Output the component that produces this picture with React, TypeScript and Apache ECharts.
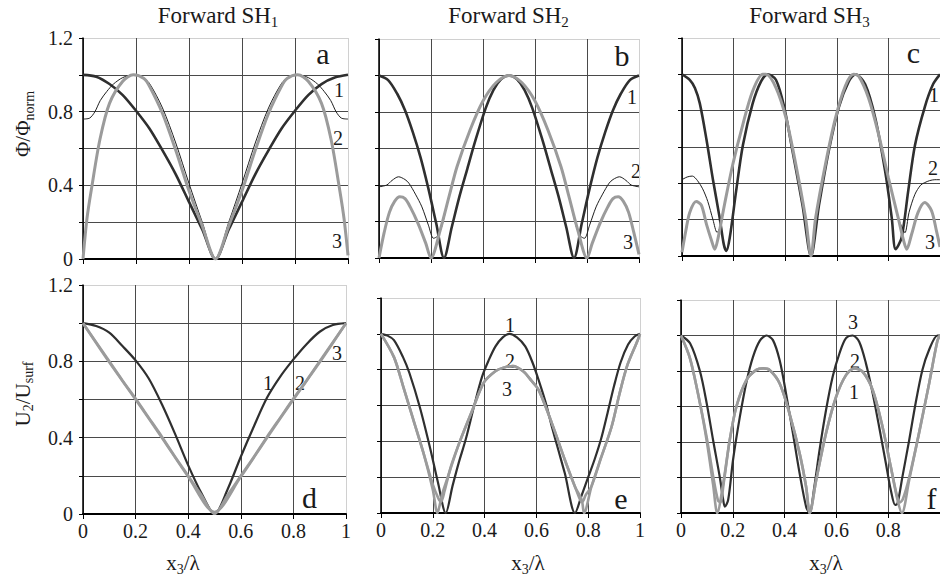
import React, { useEffect, useRef } from 'react';
import * as echarts from 'echarts';

// ---------- tick labels ----------
const X_TICK_LABELS = ['0', '0.2', '0.4', '0.6', '0.8', '1'];
const Y_TICK_LABELS = ['0', '0.4', '0.8', '1.2'];

// ---------- panel a : Forward SH1, Φ/Φnorm ----------
const A1 = [[0,1.0],[0.05,0.99],[0.1,0.95],[0.15,0.89],[0.2,0.805],[0.25,0.71],[0.3,0.59],[0.35,0.46],[0.4,0.31],[0.45,0.16],[0.5,0],[0.55,0.16],[0.6,0.31],[0.65,0.46],[0.7,0.59],[0.75,0.71],[0.8,0.805],[0.85,0.89],[0.9,0.95],[0.95,0.985],[1,1.0]];
const A2 = [[0,0.76],[0.025,0.765],[0.045,0.8],[0.065,0.86],[0.09,0.91],[0.115,0.95],[0.15,0.985],[0.19,1.0],[0.225,0.985],[0.25,0.955],[0.3,0.82],[0.35,0.63],[0.4,0.41],[0.45,0.2],[0.5,0],[0.55,0.2],[0.6,0.41],[0.65,0.63],[0.7,0.82],[0.75,0.955],[0.775,0.985],[0.81,1.0],[0.85,0.985],[0.885,0.95],[0.91,0.91],[0.935,0.86],[0.955,0.8],[0.975,0.765],[1,0.76]];
const A3 = [[0,0],[0.015,0.22],[0.033,0.39],[0.064,0.65],[0.1,0.845],[0.15,0.965],[0.19,1.0],[0.23,0.98],[0.25,0.94],[0.3,0.79],[0.35,0.59],[0.4,0.37],[0.45,0.18],[0.5,0],[0.55,0.18],[0.6,0.37],[0.65,0.59],[0.7,0.79],[0.75,0.94],[0.77,0.98],[0.81,1.0],[0.85,0.965],[0.9,0.845],[0.936,0.65],[0.967,0.39],[0.985,0.22],[1,0.02]];

// ---------- panel b : Forward SH2, Φ/Φnorm ----------
const B1 = [[0,1.0],[0.035,0.975],[0.07,0.9],[0.1,0.81],[0.13,0.69],[0.16,0.55],[0.19,0.38],[0.22,0.19],[0.25,0],[0.28,0.17],[0.31,0.34],[0.34,0.49],[0.37,0.64],[0.41,0.82],[0.44,0.92],[0.47,0.98],[0.5,1.0],[0.53,0.98],[0.56,0.92],[0.59,0.82],[0.63,0.64],[0.66,0.49],[0.69,0.34],[0.72,0.17],[0.75,0],[0.78,0.19],[0.81,0.38],[0.84,0.55],[0.87,0.69],[0.9,0.81],[0.93,0.9],[0.965,0.975],[1,1.0]];
const B2 = [[0,0.39],[0.03,0.4],[0.05,0.425],[0.075,0.445],[0.1,0.43],[0.115,0.41],[0.14,0.35],[0.165,0.28],[0.19,0.18],[0.21,0.108],[0.225,0.12],[0.24,0.165],[0.27,0.34],[0.3,0.5],[0.35,0.7],[0.4,0.86],[0.45,0.96],[0.5,1.0],[0.55,0.96],[0.6,0.86],[0.65,0.7],[0.7,0.5],[0.73,0.34],[0.76,0.165],[0.775,0.12],[0.79,0.108],[0.81,0.18],[0.835,0.28],[0.86,0.35],[0.885,0.41],[0.9,0.43],[0.925,0.445],[0.95,0.425],[0.97,0.4],[1,0.39]];
const B3 = [[0,0],[0.02,0.14],[0.04,0.25],[0.06,0.31],[0.08,0.335],[0.1,0.325],[0.12,0.28],[0.15,0.19],[0.18,0.08],[0.2,0],[0.235,0.15],[0.27,0.34],[0.3,0.5],[0.35,0.7],[0.4,0.86],[0.45,0.96],[0.5,1.0],[0.55,0.96],[0.6,0.86],[0.65,0.7],[0.7,0.5],[0.73,0.34],[0.765,0.15],[0.8,0],[0.82,0.08],[0.85,0.19],[0.88,0.28],[0.9,0.325],[0.92,0.335],[0.94,0.31],[0.96,0.25],[0.98,0.14],[1,0.02]];

// ---------- panel c : Forward SH3, Φ/Φnorm ----------
const C1 = [[0,1.0],[0.03,0.97],[0.05,0.925],[0.069,0.84],[0.095,0.64],[0.12,0.42],[0.146,0.21],[0.162,0.064],[0.172,0.028],[0.185,0.1],[0.21,0.36],[0.236,0.61],[0.274,0.84],[0.306,0.96],[0.332,1.0],[0.364,0.97],[0.396,0.82],[0.428,0.58],[0.467,0.28],[0.5,0],[0.531,0.28],[0.569,0.58],[0.608,0.82],[0.646,0.96],[0.672,1.0],[0.71,0.945],[0.749,0.76],[0.787,0.47],[0.813,0.21],[0.828,0.037],[0.851,0.1],[0.877,0.36],[0.903,0.61],[0.941,0.82],[0.973,0.945],[1,1.0]];
const C2 = [[0,0.42],[0.02,0.435],[0.04,0.44],[0.06,0.415],[0.08,0.37],[0.1,0.3],[0.12,0.2],[0.136,0.13],[0.15,0.17],[0.165,0.285],[0.197,0.505],[0.236,0.725],[0.274,0.908],[0.313,1.0],[0.326,1.0],[0.364,0.927],[0.403,0.76],[0.441,0.505],[0.479,0.21],[0.5,0],[0.518,0.21],[0.556,0.505],[0.595,0.76],[0.633,0.936],[0.665,1.0],[0.685,0.99],[0.723,0.87],[0.762,0.67],[0.8,0.43],[0.838,0.21],[0.852,0.16],[0.864,0.128],[0.88,0.24],[0.903,0.34],[0.925,0.39],[0.941,0.404],[0.96,0.415],[0.98,0.42],[1,0.42]];
const C3 = [[0,0.02],[0.015,0.14],[0.03,0.24],[0.055,0.3],[0.075,0.28],[0.095,0.174],[0.115,0.083],[0.127,0.037],[0.14,0.1],[0.165,0.285],[0.197,0.505],[0.236,0.725],[0.274,0.908],[0.313,1.0],[0.326,1.0],[0.364,0.927],[0.403,0.76],[0.441,0.505],[0.479,0.21],[0.5,0],[0.518,0.21],[0.556,0.505],[0.595,0.76],[0.633,0.936],[0.665,1.0],[0.685,0.99],[0.723,0.87],[0.762,0.67],[0.8,0.43],[0.838,0.21],[0.858,0.09],[0.871,0.037],[0.89,0.12],[0.915,0.24],[0.941,0.294],[0.967,0.25],[0.986,0.14],[1,0.05]];

// ---------- panel d : Forward SH1, U2/Usurf ----------
const D1 = [[0,1.0],[0.05,0.985],[0.1,0.95],[0.15,0.88],[0.2,0.805],[0.25,0.71],[0.3,0.575],[0.35,0.42],[0.4,0.255],[0.45,0.11],[0.5,0],[0.55,0.13],[0.6,0.3],[0.65,0.46],[0.7,0.61],[0.75,0.72],[0.8,0.81],[0.85,0.89],[0.9,0.955],[0.95,0.99],[1,1.0]];
const D2 = [[0,1.0],[0.05,0.9],[0.1,0.8],[0.15,0.7],[0.2,0.605],[0.25,0.505],[0.3,0.405],[0.35,0.3],[0.4,0.2],[0.45,0.1],[0.5,0],[0.55,0.1],[0.6,0.2],[0.65,0.3],[0.7,0.405],[0.75,0.505],[0.8,0.605],[0.85,0.7],[0.9,0.8],[0.95,0.9],[1,1.0]];
const D3 = [[0,1.0],[0.1,0.795],[0.2,0.6],[0.3,0.4],[0.4,0.195],[0.5,0.01],[0.6,0.195],[0.7,0.4],[0.8,0.6],[0.9,0.795],[1,1.0]];

// ---------- panel e : Forward SH2, U2/Usurf ----------
const E1 = [[0,1.0],[0.025,0.99],[0.05,0.965],[0.085,0.87],[0.11,0.78],[0.15,0.59],[0.19,0.36],[0.22,0.17],[0.25,0],[0.276,0.15],[0.3,0.28],[0.327,0.41],[0.36,0.6],[0.39,0.76],[0.415,0.85],[0.442,0.93],[0.47,0.98],[0.496,1.0],[0.525,0.98],[0.557,0.93],[0.585,0.84],[0.609,0.74],[0.635,0.62],[0.66,0.48],[0.685,0.35],[0.71,0.22],[0.749,0],[0.775,0.1],[0.8,0.2],[0.825,0.3],[0.851,0.42],[0.875,0.56],[0.9,0.71],[0.925,0.84],[0.954,0.94],[0.979,0.985],[1,1.0]];
const E2 = [[0,1.0],[0.05,0.87],[0.085,0.71],[0.125,0.52],[0.165,0.33],[0.2,0.16],[0.222,0.08],[0.232,0.063],[0.245,0.12],[0.27,0.26],[0.302,0.39],[0.353,0.575],[0.398,0.73],[0.44,0.79],[0.47,0.81],[0.509,0.82],[0.55,0.79],[0.58,0.74],[0.609,0.686],[0.66,0.5],[0.71,0.296],[0.749,0.147],[0.77,0.07],[0.778,0.063],[0.79,0.1],[0.813,0.15],[0.85,0.31],[0.89,0.48],[0.92,0.66],[0.95,0.82],[0.99,0.96],[1,1.0]];
const E3 = [[0,1.0],[0.05,0.87],[0.085,0.71],[0.125,0.52],[0.165,0.33],[0.2,0.13],[0.218,0],[0.235,0.1],[0.254,0.184],[0.302,0.39],[0.353,0.575],[0.398,0.73],[0.44,0.79],[0.47,0.81],[0.509,0.82],[0.55,0.79],[0.58,0.74],[0.609,0.686],[0.66,0.5],[0.71,0.296],[0.749,0.147],[0.775,0.073],[0.784,0],[0.813,0.15],[0.85,0.31],[0.89,0.48],[0.92,0.66],[0.95,0.82],[0.99,0.96],[1,1.0]];

// ---------- panel f : Forward SH3, U2/Usurf ----------
const F1 = [[0,1.0],[0.035,0.87],[0.073,0.62],[0.1,0.4],[0.124,0.16],[0.14,0],[0.163,0.167],[0.188,0.41],[0.214,0.6],[0.253,0.75],[0.291,0.806],[0.317,0.815],[0.342,0.806],[0.381,0.73],[0.419,0.56],[0.458,0.336],[0.483,0.148],[0.497,0],[0.522,0.186],[0.56,0.45],[0.599,0.655],[0.637,0.777],[0.669,0.815],[0.701,0.796],[0.74,0.693],[0.778,0.486],[0.81,0.26],[0.836,0.073],[0.853,0],[0.881,0.186],[0.919,0.45],[0.958,0.73],[0.99,0.97],[1,1.0]];
const F2 = [[0,1.0],[0.035,0.87],[0.073,0.62],[0.1,0.42],[0.125,0.2],[0.143,0.07],[0.152,0.06],[0.165,0.17],[0.188,0.41],[0.214,0.6],[0.253,0.75],[0.291,0.806],[0.317,0.815],[0.342,0.806],[0.381,0.73],[0.419,0.56],[0.458,0.336],[0.483,0.148],[0.497,0],[0.522,0.186],[0.56,0.45],[0.599,0.655],[0.637,0.777],[0.669,0.815],[0.701,0.796],[0.74,0.693],[0.778,0.486],[0.81,0.26],[0.835,0.09],[0.846,0.06],[0.857,0.08],[0.881,0.2],[0.919,0.45],[0.958,0.73],[0.99,0.97],[1,1.0]];
const F3 = [[0,1.0],[0.035,0.956],[0.073,0.8],[0.099,0.62],[0.124,0.41],[0.15,0.2],[0.163,0.073],[0.169,0.036],[0.182,0.073],[0.201,0.3],[0.227,0.54],[0.253,0.74],[0.278,0.88],[0.304,0.97],[0.33,1.0],[0.355,0.974],[0.381,0.86],[0.406,0.67],[0.432,0.45],[0.458,0.223],[0.483,0.036],[0.496,0],[0.515,0.15],[0.535,0.355],[0.56,0.58],[0.586,0.77],[0.612,0.9],[0.637,0.985],[0.663,1.0],[0.688,0.965],[0.714,0.843],[0.74,0.674],[0.765,0.486],[0.791,0.28],[0.81,0.13],[0.827,0.045],[0.836,0.054],[0.855,0.205],[0.881,0.41],[0.906,0.62],[0.932,0.806],[0.958,0.92],[0.99,1.0],[1,1.0]];

// ---------- texts ----------
const TITLES = [['Forward SH', '1'], ['Forward SH', '2'], ['Forward SH', '3']];
const PANEL_LETTERS = ['a', 'b', 'c', 'd', 'e', 'f'];
const CURVE_NUMBERS = [['1', '2', '3'], ['1', '2', '3'], ['1', '2', '3'], ['1', '2', '3'], ['1', '2', '3'], ['3', '2', '1']];

// ---------- layout / style ----------
const FONT = "'Liberation Serif', 'Times New Roman', serif";
const INK = '#1a1a1a';
const DARK = '#2f2f2f';
const GRAY = '#9b9b9b';
const THIN = '#1e1e1e';
const GRIDC = '#4a4a4a';
const BORDER = '#d0d0d0';

const PANELS = [
  { left: 83, top: 38, width: 265, height: 221, xl: false, yl: true, maxLabel: true },
  { left: 379, top: 39, width: 260, height: 219, xl: false, yl: false, maxLabel: true },
  { left: 682, top: 38, width: 260, height: 218, xl: false, yl: false, maxLabel: true },
  { left: 83, top: 285, width: 263, height: 229, xl: true, yl: true, maxLabel: true },
  { left: 381, top: 298, width: 259, height: 215, xl: true, yl: false, maxLabel: true },
  { left: 681, top: 300, width: 260, height: 213, xl: true, yl: false, maxLabel: false },
];
const TITLE_POS = [[218, 15], [508.5, 15], [809.5, 15]];
const LETTER_POS = [[323, 53], [622, 55], [913.5, 52], [309.5, 497], [621, 498], [931.5, 498]];
const NUMBER_POS = [
  [[339, 90], [338, 138], [337, 241]],
  [[632, 97], [636, 171], [628, 242]],
  [[934, 95], [933, 168], [930, 242]],
  [[268, 383], [300, 383], [337, 353]],
  [[510, 325], [510, 361], [507, 389]],
  [[853, 322], [855, 361], [854, 392]],
];
const XTITLE_POS = [[183, 563], [528, 563], [826, 563]];

let measureCtx: CanvasRenderingContext2D | null = null;
function tw(text: string, size: number) {
  if (!measureCtx) measureCtx = document.createElement('canvas').getContext('2d');
  if (!measureCtx) return text.length * size * 0.5;
  measureCtx.font = `${size}px ${FONT}`;
  return measureCtx.measureText(text).width;
}

type Part = { t: string; sub?: boolean };
function subLabel(parts: Part[], cx: number, cy: number, size: number, subSize: number, vertical = false) {
  const widths = parts.map((p) => tw(p.t, p.sub ? subSize : size));
  const total = widths.reduce((a, b) => a + b, 0);
  const subOff = 0.18 * size + 0.34 * size - 0.34 * subSize;
  let acc = 0;
  return parts.map((p, i) => {
    const off = acc;
    acc += widths[i];
    const fs = p.sub ? subSize : size;
    const style: any = {
      text: p.t, font: `${fs}px ${FONT}`, fill: INK,
      align: 'left', textAlign: 'left', verticalAlign: 'middle', textVerticalAlign: 'middle',
    };
    if (!vertical) {
      return { type: 'text', silent: true, x: cx - total / 2 + off, y: cy + (p.sub ? subOff : 0), style };
    }
    return { type: 'text', silent: true, x: cx + (p.sub ? subOff : 0), y: cy + total / 2 - off, rotation: Math.PI / 2, style };
  });
}

function plainText(text: string, x: number, y: number, size: number) {
  return {
    type: 'text', silent: true, x, y,
    style: { text, font: `${size}px ${FONT}`, fill: INK, align: 'center', textAlign: 'center', verticalAlign: 'middle', textVerticalAlign: 'middle' },
  };
}

const PANEL_DATA = [[A1, A2, A3], [B1, B2, B3], [C1, C2, C3], [D1, D2, D3], [E1, E2, E3], [F3, F2, F1]];
// kinds per panel: [dark, second, gray]
const PANEL_KINDS = [
  ['dark', 'thin', 'gray'], ['dark', 'thin', 'gray'], ['dark', 'thin', 'gray'],
  ['dark', 'gray', 'gray'], ['dark', 'gray', 'gray'], ['dark', 'gray', 'gray'],
];

export default function App() {
  const ref = useRef<HTMLDivElement>(null);
  useEffect(() => {
    if (!ref.current) return;
    const chart = echarts.init(ref.current, undefined, { renderer: 'svg' });

    const series: any[] = [];
    PANEL_DATA.forEach((arrs, gi) => {
      const bottom = gi >= 3;
      const order = [1, 0, 2]; // second curve first, then dark, then gray on top
      order.forEach((k) => {
        const kind = PANEL_KINDS[gi][k];
        const lineStyle =
          kind === 'dark' ? { color: DARK, width: bottom ? 2.2 : 2.6 }
          : kind === 'gray' ? { color: GRAY, width: bottom ? 2.6 : 3 }
          : { color: THIN, width: 1 };
        series.push({
          type: 'line', xAxisIndex: gi, yAxisIndex: gi, data: arrs[k], symbol: 'none',
          smooth: 0.3, silent: true, lineStyle, z: 3 + k,
        });
      });
    });

    const graphics: any[] = [];
    TITLES.forEach((t, i) => {
      graphics.push(...subLabel([{ t: t[0] }, { t: t[1], sub: true }], TITLE_POS[i][0], TITLE_POS[i][1], 23, 15));
    });
    graphics.push(...subLabel([{ t: 'Φ/Φ' }, { t: 'norm', sub: true }], 23, 124, 21, 14, true));
    graphics.push(...subLabel([{ t: 'U' }, { t: '2', sub: true }, { t: '/U' }, { t: 'surf', sub: true }], 22.5, 394, 21, 14, true));
    XTITLE_POS.forEach((p) => {
      graphics.push(...subLabel([{ t: 'x' }, { t: '3', sub: true }, { t: '/λ' }], p[0], p[1], 21, 14));
    });
    PANEL_LETTERS.forEach((l, i) => graphics.push(plainText(l, LETTER_POS[i][0], LETTER_POS[i][1], 30)));
    CURVE_NUMBERS.forEach((nums, i) => {
      nums.forEach((n, j) => graphics.push(plainText(n, NUMBER_POS[i][j][0], NUMBER_POS[i][j][1], 20)));
    });

    const xFmt = (v: number) => {
      const s = String(Math.round(v * 10) / 10);
      return X_TICK_LABELS.includes(s) ? s : '';
    };
    const yFmt = (v: number) => {
      const s = String(Math.round(v * 10) / 10);
      return Y_TICK_LABELS.includes(s) ? s : '';
    };

    chart.setOption({
      animation: false,
      textStyle: { fontFamily: FONT },
      grid: PANELS.map((p) => ({ left: p.left, top: p.top, width: p.width, height: p.height, containLabel: false })),
      xAxis: PANELS.map((p, i) => ({
        type: 'value', gridIndex: i, min: 0, max: 1, interval: 0.2,
        axisLine: { show: true, onZero: false, lineStyle: { color: '#000', width: 2 } },
        axisTick: { show: true, length: 5, lineStyle: { color: '#000', width: 1 } },
        axisLabel: { show: p.xl, showMaxLabel: p.maxLabel, formatter: xFmt, fontFamily: FONT, fontSize: 20, color: INK, margin: 7 },
        splitLine: { show: true, lineStyle: { color: [GRIDC, GRIDC, GRIDC, GRIDC, GRIDC, BORDER], width: 1 } },
      })),
      yAxis: PANELS.map((p, i) => ({
        type: 'value', gridIndex: i, min: 0, max: 1.2, interval: 0.2,
        axisLine: { show: true, onZero: false, lineStyle: { color: '#000', width: 1.5 } },
        axisTick: { show: true, length: 4, lineStyle: { color: '#000', width: 1 } },
        axisLabel: { show: p.yl, formatter: yFmt, fontFamily: FONT, fontSize: 20, color: INK, margin: 10 },
        splitLine: { show: true, lineStyle: { color: [GRIDC, GRIDC, GRIDC, GRIDC, GRIDC, GRIDC, BORDER], width: 1 } },
      })),
      series,
      graphic: { elements: graphics },
    });
    return () => chart.dispose();
  }, []);
  return <div ref={ref} style={{ position: 'absolute', left: 0, top: 0, width: 940, height: 579, background: '#fff' }} />;
}
